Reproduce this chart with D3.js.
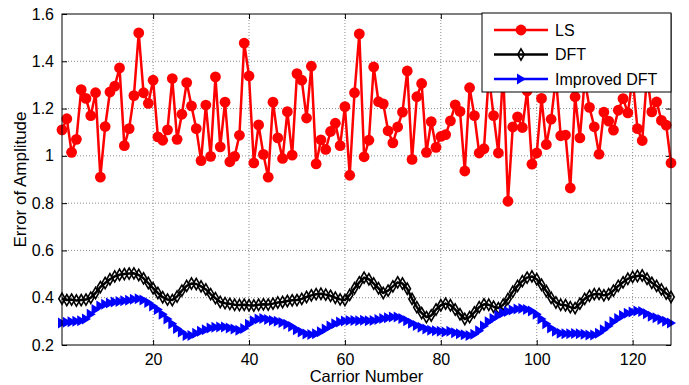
<!DOCTYPE html>
<html>
<head>
<meta charset="utf-8">
<script src="https://cdn.jsdelivr.net/npm/d3@7"></script>
<style>
  body { margin: 0; background: #fff; }
  svg { display: block; font-family: Arial, "Liberation Sans", sans-serif; }
</style>
</head>
<body>
<div id="chart"></div>
<script>
// carrier indices 1..128
const carriers = d3.range(1, 129);

const lsValues = [
  1.11, 1.157, 1.015, 1.07, 1.28, 1.243, 1.17, 1.267, 0.91, 1.124,
  1.27, 1.295, 1.372, 1.043, 1.115, 1.255, 1.52, 1.267, 1.222, 1.32,
  1.08, 1.066, 1.11, 1.327, 1.07, 1.176, 1.31, 1.211, 1.115, 0.98,
  1.215, 0.998, 1.334, 1.038, 1.227, 0.975, 0.998, 1.087, 1.477, 1.338,
  0.97, 1.131, 1.006, 0.91, 1.227, 1.076, 0.989, 1.187, 1.003, 1.348,
  1.32, 1.16, 1.379, 0.966, 1.068, 1.027, 1.103, 1.138, 1.043, 1.208,
  0.918, 1.267, 1.516, 0.996, 1.066, 1.376, 1.229, 1.22, 1.106, 1.055,
  1.122, 1.185, 1.359, 0.985, 1.25, 1.306, 1.015, 1.145, 1.036, 1.082,
  1.09, 1.148, 1.216, 1.188, 0.936, 1.288, 1.17, 1.012, 1.03, 1.34,
  1.17, 1.012, 1.36, 0.808, 1.122, 1.165, 1.12, 1.275, 0.965, 1.012,
  1.243, 1.048, 1.155, 1.33, 1.085, 1.088, 0.864, 1.25, 1.076, 1.32,
  1.205, 1.123, 1.007, 1.185, 1.147, 1.109, 1.193, 1.242, 1.182, 1.33,
  1.115, 1.065, 1.34, 1.186, 1.228, 1.15, 1.13, 0.97
];

const dftValues = [
  0.396, 0.39, 0.392, 0.388, 0.39, 0.392, 0.40, 0.42, 0.445, 0.462,
  0.478, 0.49, 0.497, 0.5, 0.502, 0.503, 0.496, 0.482, 0.462, 0.44,
  0.42, 0.402, 0.392, 0.39, 0.405, 0.43, 0.45, 0.46, 0.458, 0.448,
  0.435, 0.415, 0.398, 0.382, 0.377, 0.374, 0.37, 0.369, 0.37, 0.368,
  0.367, 0.37, 0.372, 0.371, 0.375, 0.38, 0.382, 0.386, 0.389, 0.39,
  0.395, 0.403, 0.41, 0.415, 0.417, 0.413, 0.408, 0.4, 0.393, 0.39,
  0.412, 0.44, 0.465, 0.485, 0.478, 0.46, 0.44, 0.42, 0.43, 0.448,
  0.465, 0.46, 0.438, 0.395, 0.36, 0.335, 0.318, 0.325, 0.35, 0.368,
  0.375, 0.368, 0.35, 0.33, 0.31, 0.318, 0.338, 0.36, 0.372, 0.37,
  0.362, 0.356, 0.37, 0.395, 0.425, 0.45, 0.47, 0.485, 0.49, 0.478,
  0.455, 0.428, 0.4, 0.38, 0.37, 0.368, 0.36, 0.356, 0.375, 0.395,
  0.408, 0.415, 0.416, 0.41, 0.415, 0.43, 0.45, 0.465, 0.48, 0.488,
  0.492, 0.494, 0.48, 0.463, 0.45, 0.435, 0.418, 0.403
];

const improvedValues = [
  0.293, 0.296, 0.298, 0.30, 0.303, 0.31, 0.33, 0.35, 0.365, 0.372,
  0.378, 0.382, 0.384, 0.387, 0.389, 0.393, 0.396, 0.39, 0.38, 0.365,
  0.35, 0.33, 0.31, 0.29, 0.27, 0.255, 0.24, 0.24, 0.25, 0.258,
  0.265, 0.272, 0.275, 0.276, 0.276, 0.272, 0.268, 0.262, 0.27, 0.288,
  0.303, 0.31, 0.312, 0.308, 0.304, 0.3, 0.295, 0.288, 0.278, 0.265,
  0.255, 0.246, 0.244, 0.248, 0.256, 0.268, 0.28, 0.29, 0.297, 0.302,
  0.304, 0.304, 0.303, 0.305, 0.303, 0.304, 0.308, 0.312, 0.315, 0.318,
  0.318, 0.312, 0.303, 0.292, 0.282, 0.275, 0.268, 0.262, 0.26, 0.258,
  0.255, 0.258, 0.252, 0.248, 0.243, 0.24, 0.245, 0.26, 0.28, 0.298,
  0.312, 0.325, 0.335, 0.342, 0.348, 0.352, 0.354, 0.35, 0.344, 0.33,
  0.31, 0.29, 0.272, 0.258, 0.25, 0.248, 0.248, 0.249, 0.248, 0.245,
  0.242, 0.242, 0.25, 0.265, 0.28, 0.298, 0.312, 0.325, 0.334, 0.34,
  0.344, 0.342, 0.332, 0.322, 0.315, 0.308, 0.3, 0.293
];

const xTicks = [20, 40, 60, 80, 100, 120];
const yTicks = [0.2, 0.4, 0.6, 0.8, 1, 1.2, 1.4, 1.6];
const seriesNames = ['LS', 'DFT', 'Improved DFT'];
const seriesColors = ['#ff0000', '#000000', '#0000ff'];

const W = 689, H = 385;
const margin = { top: 14, right: 18, bottom: 40, left: 62 };
const width = W - margin.left - margin.right;
const height = H - margin.top - margin.bottom;

const svg = d3.select('#chart').append('svg')
  .attr('width', W)
  .attr('height', H);

const g = svg.append('g')
  .attr('transform', `translate(${margin.left},${margin.top})`);

const x = d3.scaleLinear().domain([1, 128]).range([0, width]);
const y = d3.scaleLinear().domain([0.2, 1.6]).range([height, 0]);

// dotted grid
g.append('g').selectAll('line').data(xTicks).enter().append('line')
  .attr('x1', d => x(d)).attr('x2', d => x(d))
  .attr('y1', 0).attr('y2', height)
  .attr('stroke', '#8c8c8c').attr('stroke-width', 1)
  .attr('stroke-dasharray', '1,2');

g.append('g').selectAll('line').data(yTicks.slice(1, -1)).enter().append('line')
  .attr('x1', 0).attr('x2', width)
  .attr('y1', d => y(d)).attr('y2', d => y(d))
  .attr('stroke', '#8c8c8c').attr('stroke-width', 1)
  .attr('stroke-dasharray', '1,2');

// axes (ticks inward)
const fmt = d => (d === 1 ? '1' : d3.format('.1f')(d));

const xAxis = g.append('g')
  .attr('transform', `translate(0,${height})`)
  .call(d3.axisBottom(x).tickValues(xTicks).tickSizeInner(-5).tickSizeOuter(0).tickPadding(9));
const yAxis = g.append('g')
  .call(d3.axisLeft(y).tickValues(yTicks).tickFormat(fmt).tickSizeInner(-5).tickSizeOuter(0).tickPadding(8));
g.append('g')
  .call(d3.axisTop(x).tickValues(xTicks).tickSizeInner(-5).tickSizeOuter(0).tickFormat(''));
g.append('g')
  .attr('transform', `translate(${width},0)`)
  .call(d3.axisRight(y).tickValues(yTicks).tickSizeInner(-5).tickSizeOuter(0).tickFormat(''));

g.selectAll('.domain').remove();
g.selectAll('.tick line').attr('stroke', '#000');
[xAxis, yAxis].forEach(a => a.selectAll('text')
  .attr('font-size', 16).attr('fill', '#000')
  .attr('font-family', 'Arial, "Liberation Sans", sans-serif'));

// series
const line = d3.line().x((d, i) => x(carriers[i])).y(d => y(d));

function drawLine(values, color) {
  g.append('path').datum(values)
    .attr('fill', 'none').attr('stroke', color)
    .attr('stroke-width', 2.5).attr('stroke-linejoin', 'round')
    .attr('d', line);
}

const diamond = d3.symbol().type(d3.symbolDiamond).size(36);
const triangle = 'M-4,-5.5 L5,0 L-4,5.5 Z';

drawLine(lsValues, seriesColors[0]);
g.append('g').selectAll('circle').data(lsValues).enter().append('circle')
  .attr('cx', (d, i) => x(carriers[i])).attr('cy', d => y(d))
  .attr('r', 5.4).attr('fill', seriesColors[0]);

drawLine(dftValues, seriesColors[1]);
g.append('g').selectAll('path').data(dftValues).enter().append('path')
  .attr('transform', (d, i) => `translate(${x(carriers[i])},${y(d)})`)
  .attr('d', diamond).attr('fill', 'none').attr('stroke', '#000').attr('stroke-width', 1.6);

drawLine(improvedValues, seriesColors[2]);
g.append('g').selectAll('path').data(improvedValues).enter().append('path')
  .attr('transform', (d, i) => `translate(${x(carriers[i])},${y(d)})`)
  .attr('d', triangle).attr('fill', seriesColors[2]);

// box
g.append('rect')
  .attr('width', width).attr('height', height)
  .attr('fill', 'none').attr('stroke', '#000').attr('stroke-width', 1);

// axis labels
svg.append('text')
  .attr('x', margin.left + width / 2).attr('y', 382)
  .attr('text-anchor', 'middle').attr('font-size', 16.5)
  .text('Carrior Number');

svg.append('text')
  .attr('transform', `translate(26,${margin.top + height / 2}) rotate(-90)`)
  .attr('text-anchor', 'middle').attr('font-size', 17)
  .text('Error of Amplitude');

// legend
const lg = svg.append('g').attr('transform', 'translate(482,13)');
lg.append('rect')
  .attr('width', 189).attr('height', 79)
  .attr('fill', '#fff').attr('stroke', '#000').attr('stroke-width', 1);

seriesNames.forEach((name, i) => {
  const ly = 17 + i * 24.5;
  lg.append('line')
    .attr('x1', 12).attr('x2', 66).attr('y1', ly).attr('y2', ly)
    .attr('stroke', seriesColors[i]).attr('stroke-width', 2.5);
  if (i === 0) {
    lg.append('circle').attr('cx', 39).attr('cy', ly).attr('r', 5.4).attr('fill', seriesColors[0]);
  } else if (i === 1) {
    lg.append('path').attr('transform', `translate(39,${ly})`)
      .attr('d', diamond).attr('fill', 'none').attr('stroke', '#000').attr('stroke-width', 1.6);
  } else {
    lg.append('path').attr('transform', `translate(39,${ly})`)
      .attr('d', triangle).attr('fill', seriesColors[2]);
  }
  lg.append('text')
    .attr('x', 73).attr('y', ly + 5.5)
    .attr('font-size', 16)
    .text(name);
});
</script>
</body>
</html>
